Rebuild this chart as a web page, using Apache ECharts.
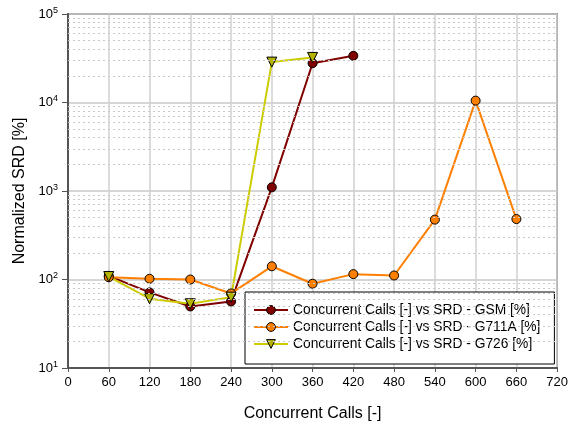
<!DOCTYPE html>
<html>
<head>
<meta charset="utf-8">
<script src="https://cdn.jsdelivr.net/npm/echarts@6/dist/echarts.min.js"></script>
<style>
html,body{margin:0;padding:0;background:#fff;}
#chart{width:571px;height:430px;}
</style>
</head>
<body>
<div id="chart"></div>
<script>
const callCounts = [60, 120, 180, 240, 300, 360, 420, 480, 540, 600, 660];
const seriesNames = [
  'Concurrent Calls [-] vs SRD - GSM [%]',
  'Concurrent Calls [-] vs SRD - G711A [%]',
  'Concurrent Calls [-] vs SRD - G726 [%]'
];
const srdGSM = [110, 71.5, 49.6, 56.5, 1100, 27800, 33700];
const srdG711A = [106, 102, 100, 69.6, 141, 89.6, 115, 111, 475, 10500, 482];
const srdG726 = [108, 60.7, 53.2, 63.2, 28600, 32300];
const minorGridValues = [
  20, 30, 40, 50, 60, 70, 80, 90,
  200, 300, 400, 500, 600, 700, 800, 900,
  2000, 3000, 4000, 5000, 6000, 7000, 8000, 9000,
  20000, 30000, 40000, 50000, 60000, 70000, 80000, 90000
];

function pairs(vals) { return vals.map((v, i) => [callCounts[i], v]); }

const chart = echarts.init(document.getElementById('chart'), null, {renderer: 'canvas'});
const FONT = 'Liberation Sans, Arial, sans-serif';
const markerStyle = {borderColor: '#000', borderWidth: 1};

chart.setOption({
  backgroundColor: '#fff',
  animation: false,
  textStyle: {fontFamily: FONT},
  grid: {left: 68, right: 12, top: 14, bottom: 62, show: true, borderColor: '#555', borderWidth: 1.5, backgroundColor: 'transparent'},
  legend: {
    data: seriesNames,
    orient: 'vertical',
    left: 245, top: 292,
    backgroundColor: '#fff',
    borderColor: '#000', borderWidth: 1,
    padding: [10, 14, 12, 8],
    itemWidth: 34, itemHeight: 11, itemGap: 1,
    textStyle: {fontFamily: FONT, fontSize: 13.8, color: '#000', lineHeight: 16},
    itemStyle: {borderColor: '#000', borderWidth: 1}
  },
  xAxis: {
    type: 'value', min: 0, max: 720, interval: 60,
    name: 'Concurrent Calls [-]', nameLocation: 'middle', nameGap: 38,
    nameTextStyle: {fontFamily: FONT, fontSize: 16, color: '#000'},
    axisLine: {show: true, lineStyle: {color: '#555', width: 2}},
    axisTick: {show: true, length: 4, lineStyle: {color: '#555'}},
    axisLabel: {fontFamily: FONT, fontSize: 13, color: '#000', margin: 8},
    splitLine: {show: true, lineStyle: {color: '#d0d0d0', width: 1.5}}
  },
  yAxis: {
    type: 'log', logBase: 10, min: 10, max: 100000,
    name: 'Normalized SRD [%]', nameLocation: 'middle', nameGap: 40,
    nameTextStyle: {fontFamily: FONT, fontSize: 16, color: '#000'},
    axisLine: {show: true, lineStyle: {color: '#555', width: 2}},
    axisTick: {show: true, length: 6, lineStyle: {color: '#555'}},
    axisLabel: {
      margin: 10,
      formatter: v => '{b|10}{e|' + Math.round(Math.log10(v)) + '}',
      rich: {
        b: {fontFamily: FONT, fontSize: 13, color: '#000'},
        e: {fontFamily: FONT, fontSize: 9, color: '#000', padding: [0, 0, 7, 0]}
      }
    },
    splitLine: {show: true, lineStyle: {color: '#c8c8c8', width: 1.5}}
  },
  series: [
    {
      type: 'line', data: [], silent: true, z: 1,
      markLine: {
        silent: true, symbol: 'none', label: {show: false}, animation: false,
        lineStyle: {color: '#c8c8c8', type: [2, 3], width: 1},
        data: minorGridValues.map(v => ({yAxis: v}))
      }
    },
    {
      name: seriesNames[0], type: 'line', data: pairs(srdGSM),
      symbol: 'circle', symbolSize: 9,
      lineStyle: {color: '#800000', width: 2},
      itemStyle: Object.assign({color: '#800000'}, markerStyle)
    },
    {
      name: seriesNames[1], type: 'line', data: pairs(srdG711A),
      symbol: 'circle', symbolSize: 9,
      lineStyle: {color: '#ff8000', width: 2},
      itemStyle: Object.assign({color: '#ff8000'}, markerStyle)
    },
    {
      name: seriesNames[2], type: 'line', data: pairs(srdG726),
      symbol: 'triangle', symbolSize: 10, symbolRotate: 180,
      lineStyle: {color: '#cccc00', width: 2},
      itemStyle: Object.assign({color: '#b4b400'}, markerStyle)
    }
  ]
});
</script>
</body>
</html>
